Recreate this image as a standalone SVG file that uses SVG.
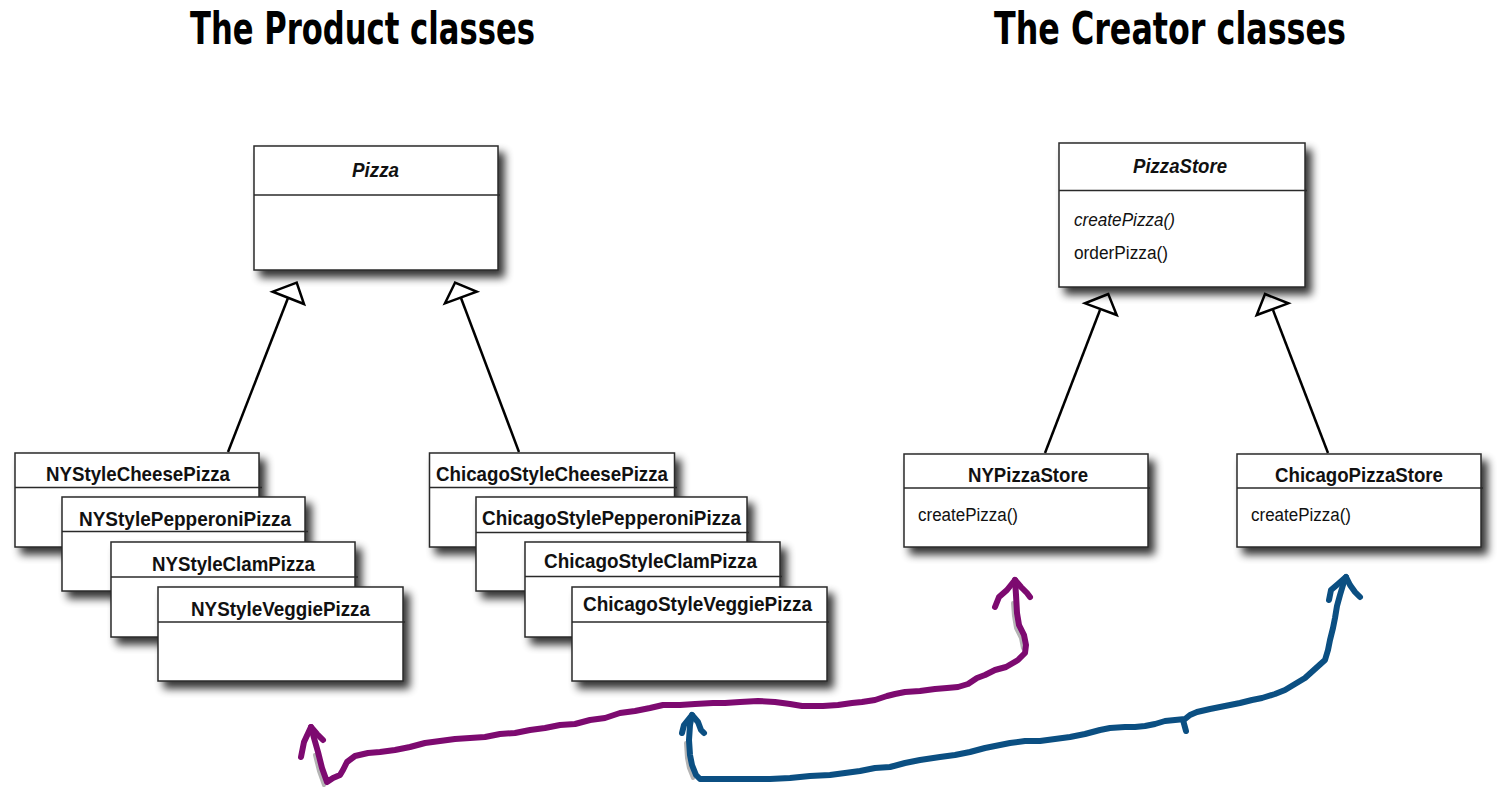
<svg xmlns="http://www.w3.org/2000/svg" width="1497" height="787" viewBox="0 0 1497 787">
<defs>
<filter id="sh" x="-10%" y="-15%" width="130%" height="150%">
<feGaussianBlur in="SourceAlpha" stdDeviation="4"/>
<feOffset dx="6" dy="7" result="o"/>
<feComponentTransfer><feFuncA type="linear" slope="0.8"/></feComponentTransfer>
<feMerge><feMergeNode/><feMergeNode in="SourceGraphic"/></feMerge>
</filter>
</defs>
<style>
.box{fill:#fff;stroke:#2a2a2a;stroke-width:1.5;filter:url(#sh)}
.div{stroke:#2a2a2a;stroke-width:1.5}
.name{font-family:"Liberation Sans",Arial,sans-serif;font-weight:bold;font-size:21px;fill:#111}
.iname{font-family:"Liberation Sans",Arial,sans-serif;font-weight:bold;font-style:italic;font-size:21px;fill:#111}
.op{font-family:"Liberation Sans",Arial,sans-serif;font-size:18px;fill:#111}
.iop{font-family:"Liberation Sans",Arial,sans-serif;font-style:italic;font-size:18px;fill:#111}
.title{font-family:"DejaVu Sans Condensed","DejaVu Sans",sans-serif;font-weight:bold;font-size:45px;fill:#000}
.gen{stroke:#000;stroke-width:2.5;fill:none}
.tri{stroke:#000;stroke-width:2.5;fill:#fff;stroke-linejoin:miter}
.hand{fill:none;stroke-width:6;stroke-linecap:round;stroke-linejoin:round}
.shadowline{fill:none;stroke:#777;stroke-width:4;stroke-linecap:round;stroke-linejoin:round;opacity:0.55}
</style>

<text class="title" x="190" y="44" textLength="345" lengthAdjust="spacingAndGlyphs">The Product classes</text>
<text class="title" x="994" y="44" textLength="352" lengthAdjust="spacingAndGlyphs">The Creator classes</text>

<g id="connectors">
<line class="gen" x1="228" y1="452" x2="288" y2="298"/>
<polygon class="tri" points="296.7,282.7 272.7,291.7 304,304"/>
<line class="gen" x1="519" y1="452" x2="461" y2="298"/>
<polygon class="tri" points="455,282.7 445,303.3 476.7,291.7"/>
<line class="gen" x1="1045" y1="453" x2="1100" y2="310"/>
<polygon class="tri" points="1108.3,294 1085,303.3 1116.7,315"/>
<line class="gen" x1="1328" y1="453" x2="1273" y2="310"/>
<polygon class="tri" points="1265,294 1256.7,315 1288.3,303.3"/>
</g>

<g id="pizza">
<rect class="box" x="254" y="146" width="244" height="124"/>
<line class="div" x1="254" y1="195" x2="500" y2="195"/>
<text class="iname" x="352" y="177" textLength="47" lengthAdjust="spacingAndGlyphs">Pizza</text>
</g>

<g id="pizzastore">
<rect class="box" x="1059" y="143" width="246" height="144"/>
<line class="div" x1="1059" y1="190.5" x2="1307" y2="190.5"/>
<text class="iname" x="1133" y="173" textLength="94" lengthAdjust="spacingAndGlyphs">PizzaStore</text>
<text class="iop" x="1074" y="226" textLength="101" lengthAdjust="spacingAndGlyphs">createPizza()</text>
<text class="op" x="1074" y="259" textLength="94" lengthAdjust="spacingAndGlyphs">orderPizza()</text>
</g>

<g id="nycheese">
<rect class="box" x="15" y="453" width="244" height="94"/>
<line class="div" x1="15" y1="487.5" x2="262" y2="487.5"/>
<text class="name" x="46" y="481" textLength="184" lengthAdjust="spacingAndGlyphs">NYStyleCheesePizza</text>
</g>
<g id="nypepperoni">
<rect class="box" x="62" y="497" width="243" height="94"/>
<line class="div" x1="62" y1="531.5" x2="308" y2="531.5"/>
<text class="name" x="79" y="526" textLength="212" lengthAdjust="spacingAndGlyphs">NYStylePepperoniPizza</text>
</g>
<g id="nyclam">
<rect class="box" x="111" y="542" width="244" height="95"/>
<line class="div" x1="111" y1="577" x2="358" y2="577"/>
<text class="name" x="152" y="571" textLength="163" lengthAdjust="spacingAndGlyphs">NYStyleClamPizza</text>
</g>
<g id="nyveggie">
<rect class="box" x="158" y="587" width="245" height="94"/>
<line class="div" x1="158" y1="622" x2="405" y2="622"/>
<text class="name" x="191" y="616" textLength="179" lengthAdjust="spacingAndGlyphs">NYStyleVeggiePizza</text>
</g>

<g id="chicheese">
<rect class="box" x="429.5" y="453" width="245" height="94"/>
<line class="div" x1="429.5" y1="487.5" x2="677" y2="487.5"/>
<text class="name" x="436" y="481" textLength="232" lengthAdjust="spacingAndGlyphs">ChicagoStyleCheesePizza</text>
</g>
<g id="chipepperoni">
<rect class="box" x="476" y="497" width="271" height="94"/>
<line class="div" x1="476" y1="532.5" x2="749" y2="532.5"/>
<text class="name" x="482" y="525" textLength="259" lengthAdjust="spacingAndGlyphs">ChicagoStylePepperoniPizza</text>
</g>
<g id="chiclam">
<rect class="box" x="525" y="542" width="255" height="95"/>
<line class="div" x1="525" y1="576.5" x2="782" y2="576.5"/>
<text class="name" x="544" y="568" textLength="213" lengthAdjust="spacingAndGlyphs">ChicagoStyleClamPizza</text>
</g>
<g id="chiveggie">
<rect class="box" x="572" y="587" width="255" height="94"/>
<line class="div" x1="572" y1="622" x2="829" y2="622"/>
<text class="name" x="583" y="611" textLength="229" lengthAdjust="spacingAndGlyphs">ChicagoStyleVeggiePizza</text>
</g>

<g id="nypizzastore">
<rect class="box" x="904" y="454" width="244" height="93"/>
<line class="div" x1="904" y1="488" x2="1150" y2="488"/>
<text class="name" x="968" y="482" textLength="120" lengthAdjust="spacingAndGlyphs">NYPizzaStore</text>
<text class="op" x="918" y="521" textLength="100" lengthAdjust="spacingAndGlyphs">createPizza()</text>
</g>

<g id="chicagopizzastore">
<rect class="box" x="1237" y="454" width="244" height="93"/>
<line class="div" x1="1237" y1="488" x2="1483" y2="488"/>
<text class="name" x="1275" y="482" textLength="168" lengthAdjust="spacingAndGlyphs">ChicagoPizzaStore</text>
<text class="op" x="1251" y="521" textLength="100" lengthAdjust="spacingAndGlyphs">createPizza()</text>
</g>

<g id="hand-connectors">
<g transform="translate(-3,3)">
<polyline class="shadowline" points="1016,600 1017,613 1019,625 1024,635 1026,645"/>
<polyline class="shadowline" points="327,782 322,768 318,752"/>
<polyline class="shadowline" points="689,740 690,755 692,765 696,775"/>
</g>
<polyline class="hand" stroke="#7d0a70" points="1015,580 1016,595 1017,613 1019,625 1024,635 1026,645 1025,653 1018,660 1006,667 995,670 985,675 977,678 968,684 958,687 947,688 935,689 920,691 905,692 895,694 887,696 875,700 862,702 852,703 838,705 823,706 812,706 802,706 790,704 775,702 758,701 740,702 725,703 713,703 695,704 680,705 663,705 650,708 635,711 620,713 605,718 590,720 575,724 560,725 545,728 530,730 515,733 500,734 485,737 470,738 455,739 440,741 425,743 410,747 395,750 380,752 368,753 355,756 347,762 343,770 340,775 333,778 327,782 322,768 318,752 314,738 311,727"/>
<polyline class="hand" stroke="#7d0a70" points="995,607 999,597 1007,590 1015,580 1021,587 1027,593 1030,597"/>
<polyline class="hand" stroke="#7d0a70" points="301,757 304,742 311,727 317,734 323,740"/>
<polyline class="hand" stroke="#0b4f82" points="1346,577 1343,585 1340,595 1337,606 1335,618 1333,628 1330,640 1328,650 1325,660 1315,669 1305,678 1295,684 1285,690 1275,694 1262,698 1252,700 1240,703 1225,706 1210,709 1197,712 1190,715 1185,719 1175,720 1165,721 1155,724 1145,726 1135,727 1125,727 1110,728 1100,730 1085,734 1070,737 1055,739 1040,741 1025,741 1010,743 1000,745 985,748 970,752 955,755 940,757 920,760 905,763 890,767 875,768 860,771 845,773 830,775 810,776 790,778 770,779 745,779 720,779 700,779 696,775 692,765 690,755 689,740 690,725 692,715"/>
<polyline class="hand" stroke="#0b4f82" points="1329,600 1331,590 1338,584 1346,577 1350,585 1355,592 1360,597"/>
<polyline class="hand" stroke="#0b4f82" points="1183,720 1186,731"/>
<polyline class="hand" stroke="#0b4f82" points="682,733 684,725 692,715 698,722 701,730 704,733"/>
</g>
</svg>
